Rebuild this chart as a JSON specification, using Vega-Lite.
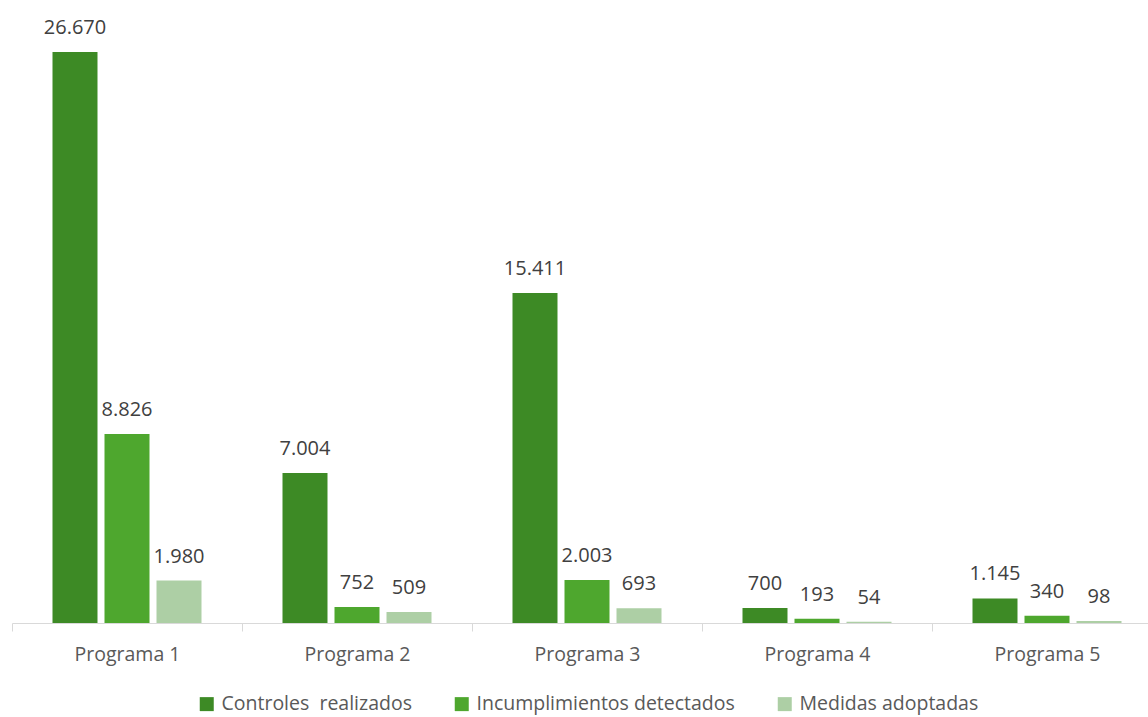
{
  "$schema": "https://vega.github.io/schema/vega-lite/v6.json",
  "width": 1136,
  "height": 623,
  "autosize": {"type": "none"},
  "padding": {"left": 12, "top": 0, "right": 0, "bottom": 94},
  "background": "white",
  "config": {
    "view": {"stroke": null},
    "font": "Open Sans",
    "locale": {"number": {"decimal": ",", "thousands": ".", "grouping": [3], "currency": ["", " €"]}}
  },
  "data": {"values": [
    {"programa": "Programa 1", "serie": "Controles \u00a0realizados", "valor": 26670},
    {"programa": "Programa 1", "serie": "Incumplimientos detectados", "valor": 8826},
    {"programa": "Programa 1", "serie": "Medidas adoptadas", "valor": 1980},
    {"programa": "Programa 2", "serie": "Controles \u00a0realizados", "valor": 7004},
    {"programa": "Programa 2", "serie": "Incumplimientos detectados", "valor": 752},
    {"programa": "Programa 2", "serie": "Medidas adoptadas", "valor": 509},
    {"programa": "Programa 3", "serie": "Controles \u00a0realizados", "valor": 15411},
    {"programa": "Programa 3", "serie": "Incumplimientos detectados", "valor": 2003},
    {"programa": "Programa 3", "serie": "Medidas adoptadas", "valor": 693},
    {"programa": "Programa 4", "serie": "Controles \u00a0realizados", "valor": 700},
    {"programa": "Programa 4", "serie": "Incumplimientos detectados", "valor": 193},
    {"programa": "Programa 4", "serie": "Medidas adoptadas", "valor": 54},
    {"programa": "Programa 5", "serie": "Controles \u00a0realizados", "valor": 1145},
    {"programa": "Programa 5", "serie": "Incumplimientos detectados", "valor": 340},
    {"programa": "Programa 5", "serie": "Medidas adoptadas", "valor": 98}
  ]},
  "encoding": {
    "x": {
      "field": "programa", "type": "nominal", "sort": null,
      "scale": {"paddingInner": 0, "paddingOuter": 0, "range": [0, 1150]},
      "axis": {
        "title": null, "labelAngle": 0, "tickBand": "extent",
        "domainColor": "#d9d9d9", "tickColor": "#d9d9d9", "tickSize": 8,
        "labelFontSize": 19.5, "labelColor": "#595959", "labelPadding": 14,
        "labelFont": "Open Sans"
      }
    },
    "xOffset": {
      "field": "serie", "type": "nominal", "sort": null,
      "scale": {"paddingInner": 0.1346, "paddingOuter": 0.7788}
    },
    "y": {
      "field": "valor", "type": "quantitative",
      "scale": {"domain": [0, 29099], "nice": false, "zero": true},
      "axis": null
    }
  },
  "layer": [
    {
      "mark": {"type": "bar"},
      "encoding": {
        "color": {
          "field": "serie", "type": "nominal", "sort": null,
          "scale": {
            "domain": ["Controles \u00a0realizados", "Incumplimientos detectados", "Medidas adoptadas"],
            "range": ["#3d8a25", "#4ea72e", "#adcfa5"]
          },
          "legend": {
            "title": null, "orient": "none", "legendX": 185, "legendY": 694, "direction": "horizontal",
            "symbolType": "square", "symbolSize": 196, "symbolStrokeWidth": 0,
            "labelFontSize": 19.5, "labelColor": "#595959", "labelFont": "Open Sans",
            "columnPadding": 40, "labelOffset": 5, "labelLimit": 400
          }
        }
      }
    },
    {
      "mark": {"type": "text", "baseline": "alphabetic", "dy": -18, "fontSize": 20, "color": "#404040", "font": "Open Sans"},
      "encoding": {
        "text": {"field": "valor", "type": "quantitative", "format": ",d"}
      }
    }
  ]
}
